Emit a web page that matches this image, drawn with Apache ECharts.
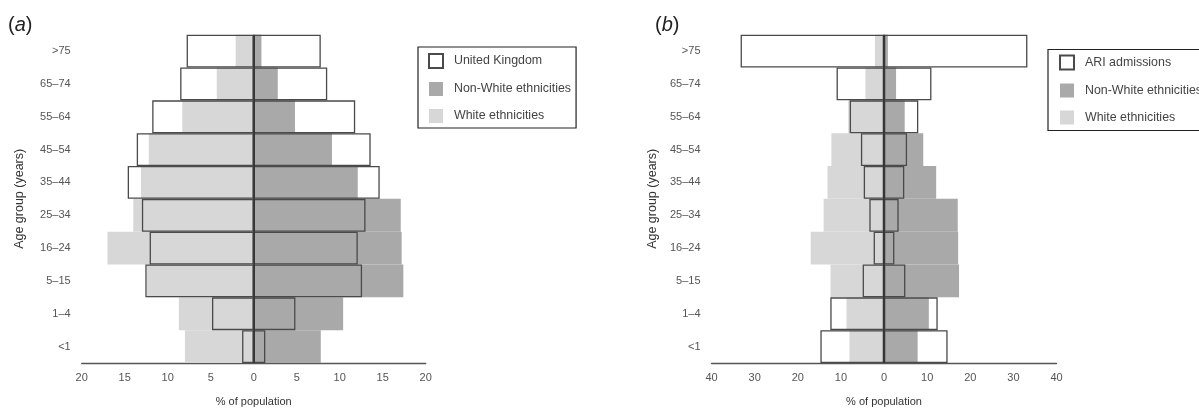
<!DOCTYPE html>
<html>
<head>
<meta charset="utf-8">
<script src="https://cdn.jsdelivr.net/npm/echarts@6/dist/echarts.min.js"></script>
<style>
html,body{margin:0;padding:0;background:#fff;}
#chart{width:1199px;height:412px;}
</style>
</head>
<body>
<div id="chart"></div>
<script>
const categories = ['<1', '1–4', '5–15', '16–24', '25–34', '35–44', '45–54', '55–64', '65–74', '>75'];
const whiteEthnicities = [8.0, 8.7, 12.4, 17.0, 14.0, 13.1, 12.2, 8.3, 4.3, 2.1];
const nonWhiteEthnicities = [7.8, 10.4, 17.4, 17.2, 17.1, 12.1, 9.1, 4.8, 2.8, 0.9];
const unitedKingdom = [1.35, 4.85, 12.6, 12.1, 13.0, 14.65, 13.6, 11.8, 8.55, 7.8];
const ariAdmissions = [14.75, 12.45, 4.95, 2.4, 3.4, 4.7, 5.35, 7.95, 11.0, 33.25];
const xTicksA = {min: -20, max: 20, interval: 5};
const xTicksB = {min: -40, max: 40, interval: 10};

const LIGHT = '#d7d7d7';
const DARK = '#a9a9a9';
const OUTLINE = '#4a4a4a';
const FONT = 'Liberation Sans, Arial, sans-serif';

const chart = echarts.init(document.getElementById('chart'), null, {renderer: 'canvas'});

function xAxisFor(idx, t) {
  return {
    gridIndex: idx, type: 'value', min: t.min, max: t.max, interval: t.interval,
    axisLine: {show: true, lineStyle: {color: '#555', width: 1.3}},
    axisTick: {show: false}, splitLine: {show: false},
    axisLabel: {color: '#555', fontSize: 11, fontFamily: FONT, margin: 9,
      formatter: v => String(Math.abs(v))},
    name: '% of population', nameLocation: 'middle', nameGap: 33,
    nameTextStyle: {color: '#333', fontSize: 11, fontFamily: FONT}
  };
}
function yAxisFor(idx, gap) {
  return {
    gridIndex: idx, type: 'category', data: categories,
    axisLine: {show: false}, axisTick: {show: false}, splitLine: {show: false},
    axisLabel: {color: '#555', fontSize: 11, fontFamily: FONT, margin: 11, padding: [20, 0, 0, 0]},
    name: 'Age group (years)', nameLocation: 'middle', nameGap: gap, nameRotate: 90,
    nameTextStyle: {color: '#333', fontSize: 12.5, fontFamily: FONT}
  };
}
function barsFor(idx, outlineName, outlineData) {
  const common = {type: 'bar', xAxisIndex: idx, yAxisIndex: idx, barWidth: '100%', barGap: '-100%',
    silent: true, animation: false, emphasis: {disabled: true}};
  return [
    Object.assign({}, common, {name: 'White ethnicities', data: whiteEthnicities.map(v => -v),
      itemStyle: {color: LIGHT}}),
    Object.assign({}, common, {name: 'Non-White ethnicities', data: nonWhiteEthnicities,
      itemStyle: {color: DARK}}),
    Object.assign({}, common, {name: outlineName, data: outlineData.map(v => -v),
      itemStyle: {color: 'rgba(255,255,255,0)', borderColor: OUTLINE, borderWidth: 1.3}}),
    Object.assign({}, common, {name: outlineName, data: outlineData,
      itemStyle: {color: 'rgba(255,255,255,0)', borderColor: OUTLINE, borderWidth: 1.3},
      markLine: {symbol: 'none', silent: true, label: {show: false},
        lineStyle: {color: '#333', width: 1.7, type: 'solid'}, data: [{xAxis: 0}]}})
  ];
}
function legendFor(left, top, names, pad) {
  return {
    left: left, top: top, orient: 'vertical', data: names,
    icon: 'rect', itemWidth: 14, itemHeight: 14, itemGap: 13,
    backgroundColor: '#fff', borderColor: '#222', borderWidth: 1.2, borderRadius: 0,
    padding: pad, selectedMode: false,
    textStyle: {color: '#444', fontSize: 12.4, fontFamily: FONT, padding: [0, 0, 0, 6]}
  };
}
const titleRich = {
  p: {fontSize: 20, fontFamily: FONT, fontWeight: 'normal', color: '#222'},
  i: {fontSize: 20, fontFamily: FONT, fontWeight: 'normal', fontStyle: 'italic', color: '#222'}
};

chart.setOption({
  animation: false,
  backgroundColor: '#fff',
  title: [
    {left: 3, top: 10, text: '{p|(}{i|a}{p|)}', textStyle: {fontWeight: 'normal', rich: titleRich}},
    {left: 650, top: 10, text: '{p|(}{i|b}{p|)}', textStyle: {fontWeight: 'normal', rich: titleRich}}
  ],
  grid: [
    {left: 81.7, top: 34.7, width: 344, height: 332.3},
    {left: 711.5, top: 34.7, width: 345, height: 332.3}
  ],
  xAxis: [xAxisFor(0, xTicksA), xAxisFor(1, xTicksB)],
  yAxis: [yAxisFor(0, 56), yAxisFor(1, 52)],
  legend: [
    legendFor(418, 47, ['United Kingdom', 'Non-White ethnicities', 'White ethnicities'], [6, 5, 5, 10]),
    legendFor(1048, 49.5, ['ARI admissions', 'Non-White ethnicities', 'White ethnicities'], [5, 40, 6, 11])
  ],
  series: [].concat(barsFor(0, 'United Kingdom', unitedKingdom), barsFor(1, 'ARI admissions', ariAdmissions))
});
</script>
</body>
</html>
